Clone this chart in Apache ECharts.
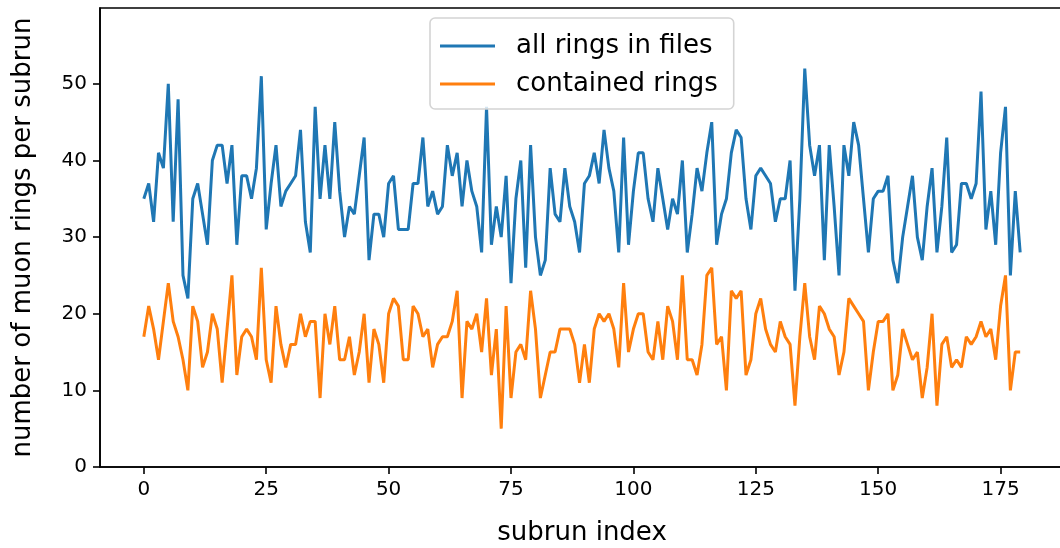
<!DOCTYPE html>
<html>
<head>
<meta charset="utf-8">
<script src="https://cdn.jsdelivr.net/npm/echarts@6/dist/echarts.min.js"></script>
<style>
  html, body { margin: 0; padding: 0; background: #fff; }
  #chart { width: 1060px; height: 548px; }
</style>
</head>
<body>
<div id="chart"></div>
<script>
// values, one per subrun (index 0..179)
const allRings = [
  35, 37, 32, 41, 39, 50, 32, 48, 25, 22,
  35, 37, 33, 29, 40, 42, 42, 37, 42, 29,
  38, 38, 35, 39, 51, 31, 37, 42, 34, 36,
  37, 38, 44, 32, 28, 47, 35, 42, 35, 45,
  36, 30, 34, 33, 38, 43, 27, 33, 33, 30,
  37, 38, 31, 31, 31, 37, 37, 43, 34, 36,
  33, 34, 42, 38, 41, 34, 40, 36, 34, 28,
  47, 29, 34, 30, 38, 24, 35, 40, 26, 42,
  30, 25, 27, 39, 33, 32, 39, 34, 32, 28,
  37, 38, 41, 37, 44, 39, 36, 28, 43, 29,
  36, 41, 41, 35, 32, 39, 35, 31, 35, 33,
  40, 28, 33, 39, 36, 41, 45, 29, 33, 35,
  41, 44, 43, 35, 31, 38, 39, 38, 37, 32,
  35, 35, 40, 23, 35, 52, 42, 38, 42, 27,
  42, 34, 25, 42, 38, 45, 42, 35, 28, 35,
  36, 36, 38, 27, 24, 30, 34, 38, 30, 27,
  34, 39, 28, 34, 43, 28, 29, 37, 37, 35,
  37, 49, 31, 36, 29, 41, 47, 25, 36, 28
];
const containedRings = [
  17, 21, 18, 14, 19, 24, 19, 17, 14, 10,
  21, 19, 13, 15, 20, 18, 11, 18, 25, 12,
  17, 18, 17, 14, 26, 14, 11, 21, 16, 13,
  16, 16, 20, 17, 19, 19, 9, 20, 16, 21,
  14, 14, 17, 12, 15, 20, 11, 18, 16, 11,
  20, 22, 21, 14, 14, 21, 20, 17, 18, 13,
  16, 17, 17, 19, 23, 9, 19, 18, 20, 15,
  22, 12, 18, 5, 21, 9, 15, 16, 14, 23,
  18, 9, 12, 15, 15, 18, 18, 18, 16, 11,
  16, 11, 18, 20, 19, 20, 18, 13, 24, 15,
  18, 20, 20, 15, 14, 19, 14, 21, 19, 14,
  25, 14, 14, 12, 16, 25, 26, 16, 17, 10,
  23, 22, 23, 12, 14, 20, 22, 18, 16, 15,
  19, 17, 16, 8, 17, 24, 17, 14, 21, 20,
  18, 17, 12, 15, 22, 21, 20, 19, 10, 15,
  19, 19, 20, 10, 12, 18, 16, 14, 15, 9,
  13, 20, 8, 16, 17, 13, 14, 13, 17, 16,
  17, 19, 17, 18, 14, 21, 25, 10, 15, 15
];
const xTicks = [0, 25, 50, 75, 100, 125, 150, 175];
const yTicks = [0, 10, 20, 30, 40, 50];
const seriesNames = ['all rings in files', 'contained rings'];

const font = 'DejaVu Sans';
const tickSize = 20;
const labelSize = 26;

const chart = echarts.init(document.getElementById('chart'), null, { renderer: 'canvas' });

function toPairs(values) {
    return values.map((v, i) => [i, v]);
}

// matplotlib-like 5% margin on the x range
const xPad = (allRings.length - 1) * 0.05;

const option = {
    animation: false,
    color: ['#1f77b4', '#ff7f0e'],
    grid: {
        left: 100,
        right: -4,
        top: 8,
        bottom: 81,
        show: true,
        borderColor: '#000',
        borderWidth: 1.6,
        outerBoundsMode: 'none',
        containLabel: false
    },
    legend: {
        orient: 'vertical',
        left: 430,
        top: 18,
        data: seriesNames,
        icon: 'rect',
        itemWidth: 55,
        itemHeight: 3,
        itemGap: 12,
        padding: [15, 16, 12, 10],
        borderColor: '#d4d4d4',
        borderWidth: 1.6,
        borderRadius: 5,
        backgroundColor: 'rgba(255,255,255,0.8)',
        textStyle: { fontFamily: font, fontSize: labelSize, color: '#000', padding: [0, 0, 0, 16] }
    },
    xAxis: {
        type: 'value',
        min: -xPad,
        max: allRings.length - 1 + xPad,
        name: 'subrun index',
        nameLocation: 'middle',
        nameGap: 53,
        nameTextStyle: { fontFamily: font, fontSize: labelSize, color: '#000' },
        axisLine: { show: true, onZero: false, lineStyle: { color: '#000', width: 1.6 } },
        axisTick: { show: true, length: 7, customValues: xTicks, lineStyle: { color: '#000', width: 1.6 } },
        axisLabel: { customValues: xTicks, fontFamily: font, fontSize: tickSize, color: '#000', margin: 13 },
        splitLine: { show: false }
    },
    yAxis: {
        type: 'value',
        min: 0,
        max: 59.9,
        name: 'number of muon rings per subrun',
        nameLocation: 'middle',
        nameGap: 64,
        nameTextStyle: { fontFamily: font, fontSize: labelSize, color: '#000' },
        axisLine: { show: true, onZero: false, lineStyle: { color: '#000', width: 1.6 } },
        axisTick: { show: true, length: 7, customValues: yTicks, lineStyle: { color: '#000', width: 1.6 } },
        axisLabel: { customValues: yTicks, fontFamily: font, fontSize: tickSize, color: '#000', margin: 13 },
        splitLine: { show: false }
    },
    series: [
        {
            name: seriesNames[0],
            type: 'line',
            data: toPairs(allRings),
            showSymbol: false,
            lineStyle: { width: 3 },
            itemStyle: { color: '#1f77b4' }
        },
        {
            name: seriesNames[1],
            type: 'line',
            data: toPairs(containedRings),
            showSymbol: false,
            lineStyle: { width: 3 },
            itemStyle: { color: '#ff7f0e' }
        }
    ]
};

chart.setOption(option);
</script>
</body>
</html>
